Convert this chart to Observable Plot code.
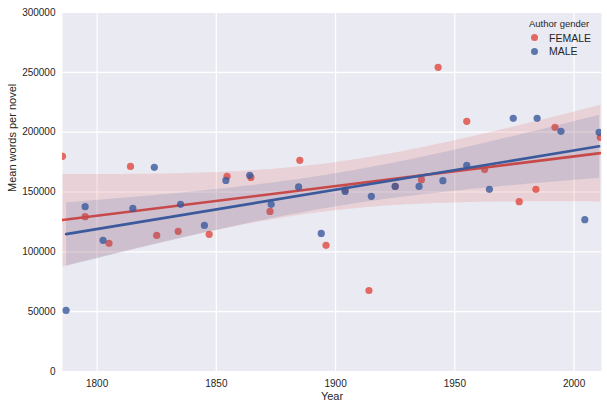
<!DOCTYPE html>
<html>
<head>
<meta charset="utf-8">
<script src="https://cdn.jsdelivr.net/npm/d3@7"></script>
<script src="https://cdn.jsdelivr.net/npm/@observablehq/plot@0.6"></script>
<style>
  html, body { margin: 0; padding: 0; background: #fff; }
  #wrap { position: relative; width: 607px; height: 409px; font-family: "Liberation Sans", Arial, sans-serif; }
  #legend { position: absolute; left: 526px; top: 18px; font-size: 10px; color: #262626; }
  #legend .title { font-size: 9.5px; margin-bottom: 2px; margin-left: 3px; }
  #legend .row { display: flex; align-items: center; height: 13.6px; font-size: 10.5px; }
  #legend .dot { width: 7px; height: 7px; border-radius: 50%; margin-left: 5px; margin-right: 11px; opacity: 0.8; }
</style>
</head>
<body>
<div id="wrap">
  <div id="chart"></div>
  <div id="legend"></div>
</div>
<script>
// Data
const genders = ["FEMALE", "MALE"];
const genderColors = ["#E0483E", "#3A5A9C"];

const femaleYears = [1785.5, 1795, 1805, 1814, 1825, 1834, 1847, 1854.5, 1864.5, 1872.5, 1885, 1896, 1904, 1914, 1925, 1936, 1943, 1955, 1962.5, 1977, 1984, 1992, 2011];
const femaleWords = [179800, 129400, 107100, 171400, 113700, 117100, 114600, 163100, 162200, 133800, 176500, 105400, 151700, 67700, 154700, 160300, 254200, 209100, 168700, 141900, 152200, 204100, 195700];

const maleYears = [1787, 1795, 1802.5, 1815, 1824, 1835, 1845, 1854, 1864, 1873, 1884.5, 1894, 1904, 1915, 1925, 1935, 1945, 1955, 1964.5, 1974.5, 1984.5, 1994.5, 2004.5, 2010.5];
const maleWords = [51000, 137700, 109600, 136300, 170600, 139700, 122100, 159700, 163900, 139700, 154200, 115400, 150500, 146400, 154700, 154700, 159500, 172300, 152200, 211600, 211600, 200700, 126900, 199900];

const xTicks = [1800, 1850, 1900, 1950, 2000];
const yTicks = [0, 50000, 100000, 150000, 200000, 250000, 300000];

const female = femaleYears.map((y, i) => ({year: y, words: femaleWords[i], gender: "FEMALE"}));
const male = maleYears.map((y, i) => ({year: y, words: maleWords[i], gender: "MALE"}));

const colorOf = g => genderColors[genders.indexOf(g)];

function layer(data, g) {
  return [
    Plot.dot(data, {x: "year", y: "words", r: 3.6, fill: colorOf(g), fillOpacity: 0.8, stroke: "none", clip: true}),
    Plot.linearRegressionY(data, {x: "year", y: "words", stroke: colorOf(g), fill: colorOf(g), fillOpacity: 0.15, strokeWidth: 2.6, ci: 0.98, clip: true})
  ];
}

const chart = Plot.plot({
  width: 607,
  height: 409,
  marginLeft: 62,
  marginRight: 6,
  marginTop: 12,
  marginBottom: 38,
  style: {fontFamily: "'Liberation Sans', Arial, sans-serif", fontSize: "10px", color: "#262626", background: "#fff"},
  x: {domain: [1785.5, 2011.5], ticks: xTicks, tickSize: 0, tickPadding: 8, tickFormat: d => String(d), label: null, grid: false},
  y: {domain: [0, 300000], ticks: yTicks, tickSize: 0, tickPadding: 7, tickFormat: d => String(d), label: null, grid: false},
  marks: [
    Plot.frame({fill: "#EAEAF2", stroke: "none"}),
    Plot.gridX(xTicks, {stroke: "#fff", strokeOpacity: 1, strokeWidth: 1.2}),
    Plot.gridY(yTicks, {stroke: "#fff", strokeOpacity: 1, strokeWidth: 1.2}),
    ...layer(female, "FEMALE"),
    ...layer(male, "MALE"),
    Plot.text(["Year"], {frameAnchor: "bottom", dy: 28, fontSize: 11, fill: "#262626"}),
    Plot.text(["Mean words per novel"], {frameAnchor: "left", dx: -50, rotate: -90, fontSize: 11, fill: "#262626"})
  ]
});
document.getElementById("chart").appendChild(chart);

// Legend
const legend = document.getElementById("legend");
const title = document.createElement("div");
title.className = "title";
title.textContent = "Author gender";
legend.appendChild(title);
genders.forEach((g, i) => {
  const row = document.createElement("div");
  row.className = "row";
  const dot = document.createElement("span");
  dot.className = "dot";
  dot.style.background = genderColors[i];
  const lab = document.createElement("span");
  lab.textContent = g;
  row.appendChild(dot);
  row.appendChild(lab);
  legend.appendChild(row);
});
</script>
</body>
</html>
